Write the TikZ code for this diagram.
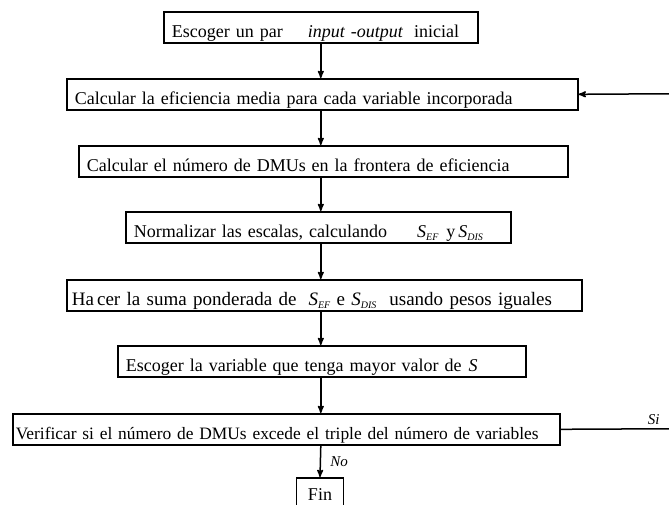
\documentclass[tikz,border=0pt]{standalone}
\usepackage{fontspec}
\setmainfont{Liberation Serif}
\usetikzlibrary{positioning, arrows}
\newcommand{\Sv}[1]{\textit{S}\raisebox{-.3ex}{\fontsize{10}{10}\selectfont\itshape #1}}
\tikzset{
  >=stealth', % filled arrow heads
  proc/.style={draw, line width=1.6pt, anchor=north west, align=left, inner xsep=8pt, inner ysep=0pt,
    text height=26pt, text depth=5pt, font=\fontsize{18}{20}\selectfont}, % process boxes
  endbox/.style={proc, anchor=north, align=center, text width=31pt, text height=23pt}, % final box
  flow/.style={->, line width=1.5pt}, % arrows between boxes
  lbl/.style={font=\fontsize{15}{16}\selectfont\itshape}, % branch labels
}
\begin{document}
\begin{tikzpicture}[x=1pt, y=-1pt]
  \useasboundingbox (0,0) rectangle (669,504);
  \clip (0,0) rectangle (669,504);

  \node[proc, text width=298pt] (b1) at (163,11)
    {Escoger un par\hspace{25pt}\textit{input -output}\hspace{11pt}inicial};
  \node[proc, text width=495pt] (b2) at (66,78)
    {Calcular la eficiencia media para cada variable incorporada};
  \node[proc, text width=473pt] (b3) at (78,145)
    {Calcular el número de DMUs en la frontera de eficiencia};
  \node[proc, text width=369pt] (b4) at (125,211)
    {Normalizar las escalas, calculando\hspace{30pt}\Sv{EF}\hspace{8pt}y\hspace{3pt}\Sv{DIS}};
  \node[proc, text width=505pt, inner xsep=5pt, font=\fontsize{19}{21}\selectfont] (b5) at (66,279)
    {Ha\,cer la suma ponderada de\hspace{12pt}\Sv{EF} e \Sv{DIS}\hspace{13pt}usando pesos iguales};
  \node[proc, text width=392pt] (b6) at (117,345)
    {Escoger la variable que tenga mayor valor de\hspace{7pt}\textit{S}};
  \node[proc, text width=541pt, inner xsep=3pt, font=\fontsize{17.4}{20}\selectfont] (b7) at (12,413)
    {Verificar si el número de DMUs excede el triple del número de variables};
  \node[endbox] (fin) at (320,477) {Fin};

  \coordinate (back) at (669,93.75);
  \coordinate (yes) at (669,428.75);

  \foreach \a/\b in {b1/b2, b2/b3, b3/b4, b4/b5, b5/b6, b6/b7}
    \draw[flow] (\a.south -| b1.south) -- (\b.north -| b1.south);
  \draw[flow] (b7.south -| b1.south) -- node[lbl, right=6pt] {No} (fin.north);

  % return branch
  \draw[line width=1.5pt] (b7.east) -- node[lbl, pos=.86, above] {Si} (yes);
  \draw[flow] (back) -- (b2.east);
\end{tikzpicture}
\end{document}
